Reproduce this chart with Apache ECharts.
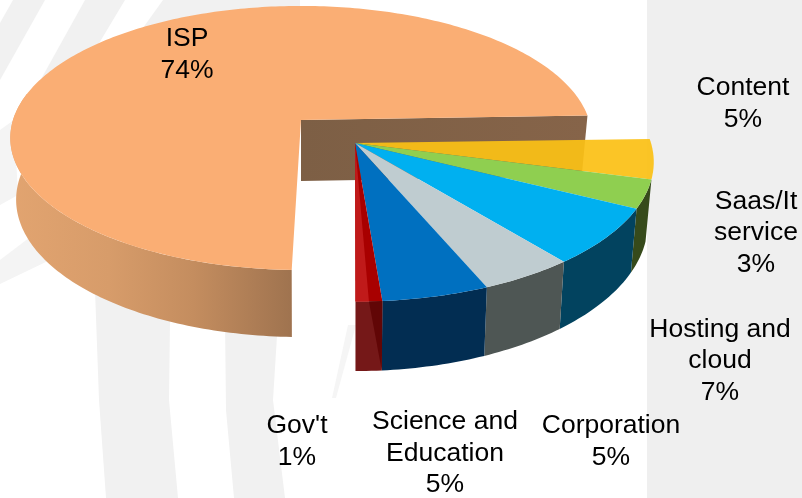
<!DOCTYPE html>
<html>
<head>
<meta charset="utf-8">
<style>
  html, body { margin: 0; padding: 0; background: #fff; }
  #chart { width: 802px; height: 498px; }
</style>
<script src="https://cdn.jsdelivr.net/npm/echarts@6/dist/echarts.min.js"></script>
</head>
<body>
<div id="chart"></div>
<script>
// slices, ISP pulled away from the rest
const categories = ['ISP', 'Content', 'Saas/It\nservice', 'Hosting and\ncloud', 'Corporation', 'Science and\nEducation', "Gov't"];
const shares = [74, 4.6, 3.3, 6.7, 4.5, 5.1, 1.25];
const topColors = ['#FAAE74', '#FBC116', '#8FCF50', '#00B0F0', '#BFCCD0', '#0070C0', '#A80000'];
const sideColors = ['#C48D5F', '#8A6B10', '#364A1B', '#02435F', '#4E5654', '#022D52', '#751818'];

// label centres, same order as categories
const labelX = [187, 743, 756, 720, 611, 445, 297];
const labelY = [53, 102, 231.5, 359.5, 440, 452, 440];

// tilted disc, k is the perspective
const bigDisc = { x0: 301, y0: 120, a: 288, b: 129.6, k: 0.136, h: 61, g: 0.04 };
const smallDisc = { x0: 355, y0: 143, a: 296, b: 137, k: 0.136, h: 60, g: 0.06 };

const rad = Math.PI / 180;
const topPoint = (d, deg) => {
  const s = 1 - d.k * Math.sin(deg * rad);
  return [d.x0 + d.a * Math.cos(deg * rad) / s, d.y0 + d.b * Math.sin(deg * rad) / s];
};
const dropPoint = (d, p) => [d.x0 + (p[0] - d.x0) * 0.98, p[1] + d.h + d.g * (p[1] - d.y0)];
const arc = (d, from, to) => {
  const pts = [];
  const n = Math.max(2, Math.ceil(Math.abs(to - from)));
  for (let i = 0; i <= n; i++) pts.push(topPoint(d, from + (to - from) * i / n));
  return pts;
};
const rimWall = (d, from, to) => {
  const rim = arc(d, from, to);
  return rim.concat(rim.map(p => dropPoint(d, p)).reverse());
};
const poly = (points, fill, opacity) => ({
  type: 'polygon',
  shape: { points: points },
  style: { fill: fill, opacity: opacity === undefined ? 1 : opacity }
});

// start angle of every slice (screen degrees, clockwise)
const smallStart = -1.7;
const ispStart = 91.6;
const startAngles = [ispStart];
let acc = smallStart;
for (let i = 1; i < shares.length; i++) {
  startAngles.push(acc);
  acc += shares[i] * 3.6;
}

function renderSlice(params, api) {
  const i = params.dataIndex;
  const value = api.value(0);
  const from = startAngles[i];
  const to = from + value * 3.6;
  const children = [];
  if (i === 0) {
    const d = bigDisc;
    const apex = [d.x0, d.y0];
    const corner = topPoint(d, to);
    // cut face at the back, then outer rim, then the top
    children.push(poly([apex, corner, dropPoint(d, corner), dropPoint(d, apex)], new echarts.graphic.LinearGradient(0, 0, 1, 0, [
      { offset: 0, color: '#7D5F45' }, { offset: 1, color: '#866449' }
    ])));
    children.push(poly(rimWall(d, from, 192), new echarts.graphic.LinearGradient(0, 0, 1, 0, [
      { offset: 0, color: '#E2A470' }, { offset: 0.35, color: '#D79C6A' },
      { offset: 0.65, color: '#C48D5F' }, { offset: 1, color: '#9F734F' }
    ])));
    children.push(poly([apex].concat(arc(d, from, to)), topColors[i]));
  } else {
    const d = smallDisc;
    const apex = [d.x0, d.y0];
    // the yellow slice's rim is hidden behind the green one
    if (i > 1) children.push(poly(rimWall(d, from, to), sideColors[i]));
    children.push(poly([apex].concat(arc(d, from, to)), topColors[i], i === 1 ? 0.93 : 1));
    if (i === shares.length - 1) {
      // see-through shading on the thin red slice
      const mid = (from + to) / 2;
      const p = topPoint(d, to);
      const q = topPoint(d, mid);
      const r = topPoint(d, from);
      children.push(poly([apex, p, q], '#C01A1A'));
      children.push(poly([q, r, dropPoint(d, r)], '#610606'));
    }
  }
  children.push({
    type: 'text',
    z2: 10,
    style: {
      x: labelX[i],
      y: labelY[i] + 1.5,
      text: categories[i] + '\n' + Math.round(value) + '%',
      align: 'center',
      verticalAlign: 'middle',
      fill: '#000',
      fontFamily: '"Liberation Sans", Arial, sans-serif',
      fontSize: 26.5,
      lineHeight: 31.5
    }
  });
  return { type: 'group', children: children };
}

// pale watermark strokes behind the pie
const band = (points, fill) => ({
  type: 'polygon',
  silent: true,
  z: -1,
  shape: { points: points },
  style: { fill: fill || '#F1F1F1' }
});
const backdrop = [
  { type: 'rect', silent: true, z: -1, shape: { x: 647, y: 0, width: 155, height: 498 }, style: { fill: '#EFEFEF' } },
  band([[13, 0], [45, 0], [0, 80], [0, 23]]),
  band([[85, 0], [125, 0], [80, 75], [35, 90]]),
  band([[163, 0], [300, 0], [300, 30], [120, 60]]),
  band([[0, 130], [14, 120], [18, 195], [0, 205]], '#F4F4F4'),
  band([[0, 260], [50, 222], [50, 260], [0, 284]], '#F4F4F4'),
  band([[95, 290], [170, 320], [169, 400], [178, 498], [106, 498], [99, 400]]),
  band([[225, 320], [278, 320], [273, 400], [285, 498], [234, 498], [226, 410]]),
  band([[348, 325], [356, 325], [336, 398], [332, 398]], '#F5F5F5')
];

const chart = echarts.init(document.getElementById('chart'));
chart.setOption({
  animation: false,
  backgroundColor: '#fff',
  graphic: backdrop,
  series: [{
    type: 'custom',
    coordinateSystem: 'none',
    silent: true,
    renderItem: renderSlice,
    data: shares
  }]
});
</script>
</body>
</html>
